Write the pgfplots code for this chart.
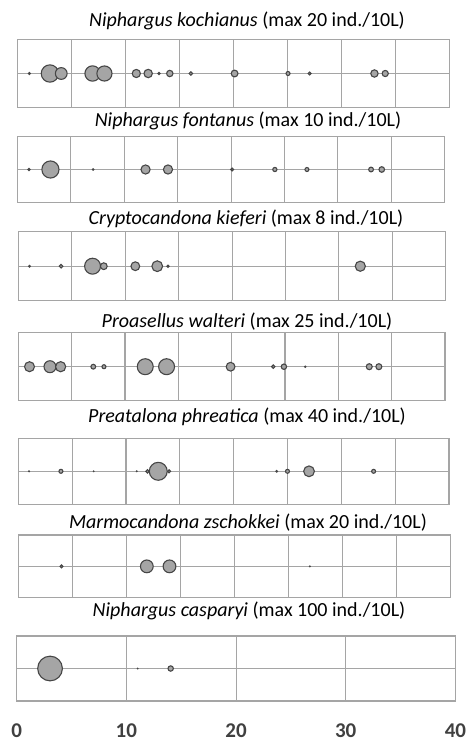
\documentclass[border=0pt]{standalone}
\usepackage{fontspec}
\setmainfont{Carlito}
\usepackage{pgfplots}
\pgfplotsset{compat=1.18}
\definecolor{gridcol}{RGB}{165,165,165}
\definecolor{bubfill}{RGB}{165,165,165}
\definecolor{bubedge}{RGB}{70,70,70}
\definecolor{ticktext}{RGB}{64,64,64}
\pgfplotsset{
  panel/.style={scale only axis, anchor=south west, clip=false,
    xmin=0, xmax=40, ymin=-1, ymax=1,
    xtick={5,10,...,35}, ytick={0}, xticklabels={}, yticklabels={},
    major tick length=0, xmajorgrids, ymajorgrids,
    grid style={gridcol, line width=1.1bp},
    axis line style={gridcol, line width=1.1bp}},
  bub/.style={scatter, only marks, mark=*, line width=1.1bp,
    point meta=\thisrow{r},
    scatter/use mapped color={draw=bubedge, fill=bubfill},
    visualization depends on={\thisrow{r} \as \rad},
    scatter/@pre marker code/.append style={/tikz/mark size=\rad}}
}
\newcommand{\ttl}{\fontsize{20bp}{24bp}\selectfont}
\begin{document}
\begin{tikzpicture}
\path[use as bounding box] (0,0) rectangle (470bp,-742bp);

% 1
\node[anchor=base, font=\ttl] at (247bp,-26bp) {\textit{Niphargus kochianus} (max 20 ind./10L)};
\begin{axis}[panel, at={(17.5bp,-107.7bp)}, width=432bp, height=68.4bp]
\addplot[bub] table[x=x, y expr=0] {
x r
1.1 1.0
3.0 8.7
4.05 5.9
6.95 7.7
8.05 7.6
11.0 4.1
12.1 4.2
13.1 1.0
14.1 3.2
16.05 1.7
20.1 3.4
25.05 2.0
27.05 1.4
33.05 3.7
34.05 3.1
};
\end{axis}

% 2
\node[anchor=base, font=\ttl] at (248bp,-126bp) {\textit{Niphargus fontanus} (max 10 ind./10L)};
\begin{axis}[panel, at={(17.3bp,-202.3bp)}, width=427.5bp, height=65.6bp]
\addplot[bub] table[x=x, y expr=0] {
x r
1.1 1.1
3.1 8.6
7.1 0.7
12.0 4.6
14.1 4.6
20.1 1.4
24.1 2.1
27.1 2.0
33.1 2.4
34.1 2.8
};
\end{axis}

% 3
\node[anchor=base, font=\ttl] at (246bp,-224bp) {\textit{Cryptocandona kieferi} (max 8 ind./10L)};
\begin{axis}[panel, at={(18.3bp,-300.7bp)}, width=427.5bp, height=69bp]
\addplot[bub] table[x=x, y expr=0] {
x r
1.05 0.9
4.0 1.8
6.95 8.0
8.0 3.4
10.95 4.4
13.0 5.4
14.0 1.1
32.0 5.1
};
\end{axis}

% 4
\node[anchor=base, font=\ttl] at (247bp,-327bp) {\textit{Proasellus walteri} (max 25 ind./10L)};
\begin{axis}[panel, at={(18.3bp,-400.7bp)}, width=426.7bp, height=68bp]
\addplot[bub] table[x=x, y expr=0] {
x r
1.05 5.0
2.97 6.0
3.97 5.1
7.03 2.4
8.03 2.0
11.9 8.0
13.9 8.0
19.9 4.4
23.9 1.7
24.9 2.7
26.9 0.6
32.9 3.0
33.8 3.0
};
\end{axis}

% 5
\node[anchor=base, font=\ttl] at (247bp,-422bp) {\textit{Preatalona phreatica} (max 40 ind./10L)};
\begin{axis}[panel, at={(18.3bp,-504.3bp)}, width=430.7bp, height=66bp]
\addplot[bub] table[x=x, y expr=0] {
x r
1.0 0.4
3.96 2.0
7.0 0.3
11.0 0.3
12.0 1.7
14.0 1.5
13.0 9.0
24.0 0.8
25.0 2.0
27.0 5.4
33.0 2.0
};
\end{axis}

% 6
\node[anchor=base, font=\ttl] at (248bp,-528bp) {\textit{Marmocandona zschokkei} (max 20 ind./10L)};
\begin{axis}[panel, at={(18.3bp,-597.7bp)}, width=432bp, height=62.7bp]
\addplot[bub] table[x=x, y expr=0] {
x r
4.0 1.4
11.9 6.4
14.0 6.4
27.0 0.4
};
\end{axis}

% 7
\node[anchor=base, font=\ttl] at (249bp,-616bp) {\textit{Niphargus casparyi} (max 100 ind./10L)};
\begin{axis}[panel, at={(16.7bp,-701bp)}, width=438.7bp, height=65bp,
  xtick={0,10,...,40}, xticklabels={0,10,20,30,40},
  xticklabel style={anchor=base, yshift=-36.5bp, text=ticktext, inner sep=0pt,
    font=\fontsize{21bp}{25bp}\selectfont\bfseries}]
\addplot[bub] table[x=x, y expr=0] {
x r
3.04 12.4
11.03 0.3
14.04 2.7
};
\end{axis}
\end{tikzpicture}
\end{document}
